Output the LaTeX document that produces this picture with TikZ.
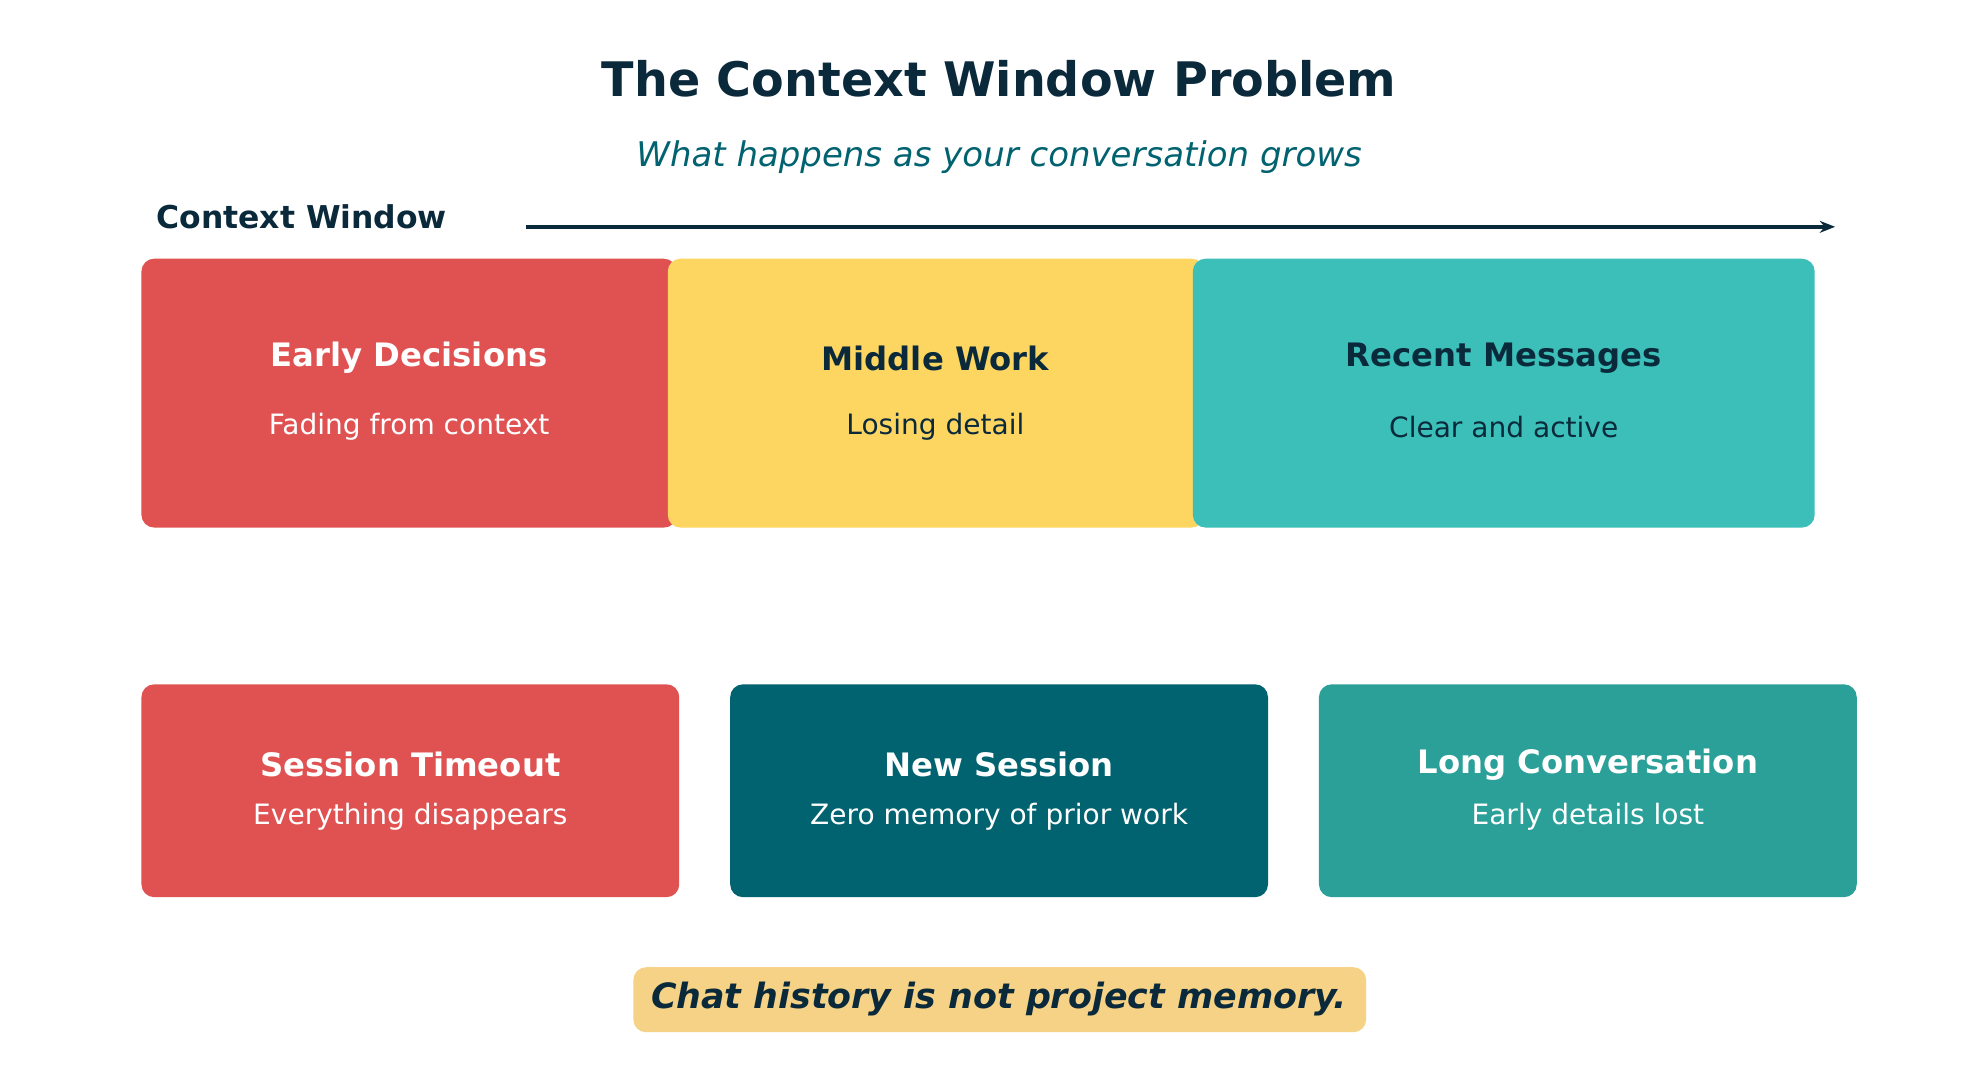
\documentclass[tikz,border=0pt]{standalone}
\usepackage{fontspec}
\setmainfont{DejaVu Sans}
\usetikzlibrary{arrows.meta}
\definecolor{navy}{HTML}{0A2A3C}
\definecolor{cred}{HTML}{E05252}
\definecolor{cyel}{HTML}{FDD561}
\definecolor{cteal}{HTML}{3BBFB8}
\definecolor{cdark}{HTML}{016270}
\definecolor{cteal2}{HTML}{2BA098}
\definecolor{cnote}{HTML}{F5D285}
\begin{document}
\begin{tikzpicture}[x=0.75pt,y=-0.75pt,
 box/.style={rounded corners=7.5pt},
 ttl/.style={font=\fontsize{19}{22}\selectfont\bfseries},
 sub/.style={font=\fontsize{16.5}{20}\selectfont}]
\useasboundingbox[fill=white] (0,0) rectangle (1560,845);
\node[font=\fontsize{28}{32}\selectfont\bfseries,text=navy] (title) at (784,62) {The Context Window Problem};
\node[font=\fontsize{20}{24}\selectfont\itshape,text=cdark] (subt) at (784,123) {What happens as your conversation grows};
\node[font=\fontsize{18.5}{22}\selectfont\bfseries,text=navy,anchor=west] (cw) at (118,170) {Context Window};
\coordinate (a1) at (413,178); \coordinate (a2) at (1440,178);
\draw[navy,line width=2.3pt,-{Stealth[length=9pt,width=7pt]}] (a1) -- (a2);
% top
\fill[cred,box] (111,203) rectangle (531,414);
\fill[cyel,box] (524,203) rectangle (945,414);
\fill[cteal,box] (936,203) rectangle (1424,414);
\node[ttl,text=white] (t1) at (321,281) {Early Decisions};
\node[sub,text=white] (s1) at (321,335) {Fading from context};
\node[ttl,text=navy] (t2) at (734,281) {Middle Work};
\node[sub,text=navy] (s2) at (734,335) {Losing detail};
\node[ttl,text=navy] (t3) at (1180,281) {Recent Messages};
\node[sub,text=navy] (s3) at (1180,335) {Clear and active};
% bottom
\fill[cred,box] (111,537) rectangle (533,704);
\fill[cdark,box] (573,537) rectangle (995,704);
\fill[cteal2,box] (1035,537) rectangle (1457,704);
\node[ttl,text=white] (b1) at (322,600) {Session Timeout};
\node[sub,text=white] (c1) at (322,641) {Everything disappears};
\node[ttl,text=white] (b2) at (784,600) {New Session};
\node[sub,text=white] (c2) at (784,641) {Zero memory of prior work};
\node[ttl,text=white] (b3) at (1246,600) {Long Conversation};
\node[sub,text=white] (c3) at (1246,641) {Early details lost};
\fill[cnote,box] (497,759) rectangle (1072,810);
\node[font=\fontsize{20.5}{24}\selectfont\bfseries\itshape,text=navy] (note) at (784,784) {Chat history is not project memory.};
\end{tikzpicture}
\end{document}
